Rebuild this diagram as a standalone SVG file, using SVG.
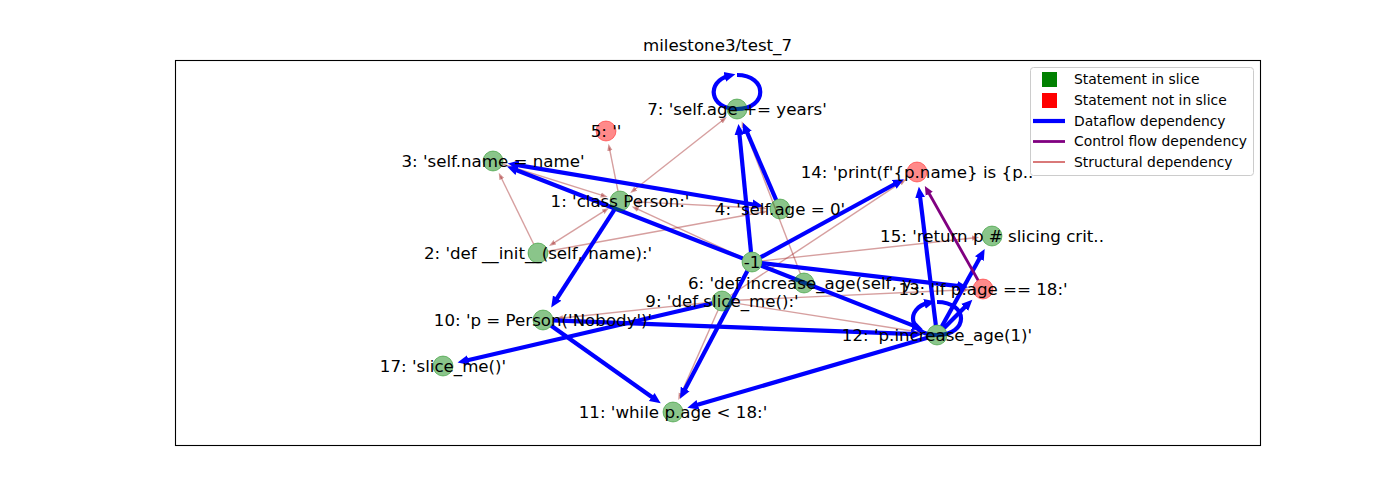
<svg xmlns="http://www.w3.org/2000/svg" width="1400" height="500" viewBox="0 0 1400 500">
<style>
text{font-family:"DejaVu Sans","Liberation Sans",sans-serif;fill:#000}
.lbl{font-size:16.67px;text-anchor:middle}
.ttl{font-size:16.67px;text-anchor:middle}
.leg{font-size:13.89px}
.df{stroke:#0000ff;stroke-width:4.2;fill:none;marker-end:url(#ab)}
.df2{marker-start:url(#ab)}
.st{stroke:#a52a2a;stroke-opacity:0.45;stroke-width:1.4;fill:none;marker-end:url(#ar)}
.st2{marker-start:url(#ar)}
.cf{stroke:#800080;stroke-width:2.8;fill:none;marker-end:url(#ap)}
.in{fill:#008000;fill-opacity:0.46;stroke:#008000;stroke-opacity:0.46;stroke-width:1}
.out{fill:#ff0000;fill-opacity:0.46;stroke:#ff0000;stroke-opacity:0.46;stroke-width:1}
</style>
<defs>
<marker id="ab" markerUnits="userSpaceOnUse" viewBox="0 0 12 12" markerWidth="12" markerHeight="12" refX="4" refY="6" orient="auto-start-reverse"><path d="M0,1 L11,6 L0,11 z" fill="#0000ff"/></marker>
<marker id="ar" markerUnits="userSpaceOnUse" viewBox="0 0 8 6" markerWidth="8" markerHeight="6" refX="3" refY="3" orient="auto-start-reverse"><path d="M0,0.4 L7,3 L0,5.6 z" fill="#a52a2a" fill-opacity="0.5"/></marker>
<marker id="ap" markerUnits="userSpaceOnUse" viewBox="0 0 10 9" markerWidth="10" markerHeight="9" refX="4" refY="4.5" orient="auto"><path d="M0,0.5 L9,4.5 L0,8.5 z" fill="#800080"/></marker>
</defs>
<rect width="1400" height="500" fill="#fff"/>
<rect x="175.5" y="60.5" width="1085" height="385" fill="none" stroke="#000" stroke-width="1.1"/>
<text class="ttl" x="717.5" y="51">milestone3/test_7</text>
<g id="edges">
<g id="structural">
<path class="st" d="M742.9,257.8 L635.4,208.1"/>
<path class="st st2" d="M605.6,210.1 L552.4,243.9"/>
<path class="st" d="M533.6,244 L500.5,176.3"/>
<path class="st" d="M547.8,251.2 L763.3,212"/>
<path class="st" d="M618,191.2 L609.3,147.7"/>
<path class="st st2" d="M633.4,190.5 L723.6,119.5"/>
<path class="st" d="M502.5,164 L603.8,195.9"/>
<path class="st st2" d="M763,208.2 L637,201.9"/>
<path class="st" d="M800.4,273.7 L743.1,124.9"/>
<path class="st" d="M712.1,302.1 L559.9,318.2"/>
<path class="st" d="M718,310.2 L679.9,396.4"/>
<path class="st" d="M731.9,302.6 L920.2,332.3"/>
<path class="st" d="M732,300.5 L966,289.8"/>
<path class="st" d="M761.9,260.9 L975.1,237.8"/>
<path class="st" d="M730.3,295.5 L902.8,181.4"/>
</g>
<g id="dataflow">
<path class="df" d="M742.7,258.4 L513.5,169"/>
<path class="df df2" d="M756.3,205 L514.7,164.6"/>
<path class="df" d="M751,252 L739.1,130.9"/>
<path class="df" d="M776.1,199.8 L745.7,129.2"/>
<path class="df" d="M737,75 C768,75 768,109 737,109 C709.1,109 706.3,81.5 728.6,76"/>
<path class="df" d="M614.6,209.4 L555,301.5"/>
<path class="df" d="M760.8,257.2 L897.7,182.5"/>
<path class="df" d="M761.9,263.2 L961.1,286.4"/>
<path class="df" d="M761.3,265.7 L916.5,326.9"/>
<path class="df" d="M747.3,270.9 L683.3,392.5"/>
<path class="df" d="M553,320.4 L915,334.2"/>
<path class="df" d="M551.2,325.8 L655,399.3"/>
<path class="df" d="M712.3,303.3 L464.4,361"/>
<path class="df" d="M927.4,337.8 L694.1,405.8"/>
<path class="df" d="M935.8,325.1 L919.7,193.8"/>
<path class="df" d="M941.9,326.3 L981.3,255.2"/>
<path class="df" d="M944.1,327.9 L967.4,304.6"/>
<path class="df" d="M937,302 C969,302 969,335 937,335 C908.2,335 905.3,308.3 928.4,302.9"/>
</g>
<g id="control">
<path class="cf" d="M978.1,280.3 L927.3,190.3"/>
</g>
</g>
<g id="nodes">
<g id="n7"><circle class="in" cx="737" cy="109" r="10"/></g>
<g id="n5"><circle class="out" cx="606" cy="131" r="10"/></g>
<g id="n3"><circle class="in" cx="493" cy="161" r="10"/></g>
<g id="n1"><circle class="in" cx="620" cy="201" r="10"/></g>
<g id="n4"><circle class="in" cx="780" cy="209" r="10"/></g>
<g id="n2"><circle class="in" cx="538" cy="253" r="10"/></g>
<g id="nm1"><circle class="in" cx="752" cy="262" r="10"/></g>
<g id="n6"><circle class="in" cx="804" cy="283" r="10"/></g>
<g id="n9"><circle class="in" cx="722" cy="301" r="10"/></g>
<g id="n10"><circle class="in" cx="543" cy="320" r="10"/></g>
<g id="n17"><circle class="in" cx="443" cy="366" r="10"/></g>
<g id="n11"><circle class="in" cx="673" cy="412" r="10"/></g>
<g id="n12"><circle class="in" cx="937" cy="335" r="10"/></g>
<g id="n13"><circle class="out" cx="983" cy="289" r="10"/></g>
<g id="n15"><circle class="in" cx="992" cy="236" r="10"/></g>
<g id="n14"><circle class="out" cx="917" cy="172" r="10"/></g>
</g>
<g id="labels">
<text class="lbl" x="737" y="115">7: 'self.age += years'</text>
<text class="lbl" x="606" y="137">5: ''</text>
<text class="lbl" x="493" y="167">3: 'self.name = name'</text>
<text class="lbl" x="620" y="207">1: 'class Person:'</text>
<text class="lbl" x="780" y="215">4: 'self.age = 0'</text>
<text class="lbl" x="538" y="259">2: 'def __init__(self, name):'</text>
<text class="lbl" x="752" y="268">-1</text>
<text class="lbl" x="804" y="289">6: 'def increase_age(self, y..</text>
<text class="lbl" x="722" y="307">9: 'def slice_me():'</text>
<text class="lbl" x="543" y="326">10: 'p = Person('Nobody')'</text>
<text class="lbl" x="443" y="372">17: 'slice_me()'</text>
<text class="lbl" x="673" y="418">11: 'while p.age &lt; 18:'</text>
<text class="lbl" x="937" y="341">12: 'p.increase_age(1)'</text>
<text class="lbl" x="983" y="295">13: 'if p.age == 18:'</text>
<text class="lbl" x="992" y="242">15: 'return p # slicing crit..</text>
<text class="lbl" x="917" y="178">14: 'print(f'{p.name} is {p..</text>
</g>
<g id="legend">
<rect x="1030.5" y="67.5" width="223" height="108" rx="3" fill="#fff" fill-opacity="0.8" stroke="#cccccc" stroke-width="1"/>
<rect x="1042" y="72" width="15" height="15" fill="#008000"/>
<rect x="1042" y="93" width="15" height="15" fill="#ff0000"/>
<line x1="1033" y1="121" x2="1065" y2="121" stroke="#0000ff" stroke-width="4.2"/>
<line x1="1033" y1="141.5" x2="1065" y2="141.5" stroke="#800080" stroke-width="2.8"/>
<line x1="1033" y1="162" x2="1065" y2="162" stroke="#c02020" stroke-width="1.2"/>
<text class="leg" x="1074" y="84">Statement in slice</text>
<text class="leg" x="1074" y="105">Statement not in slice</text>
<text class="leg" x="1074" y="125.5">Dataflow dependency</text>
<text class="leg" x="1074" y="146">Control flow dependency</text>
<text class="leg" x="1074" y="166.5">Structural dependency</text>
</g>
</svg>
